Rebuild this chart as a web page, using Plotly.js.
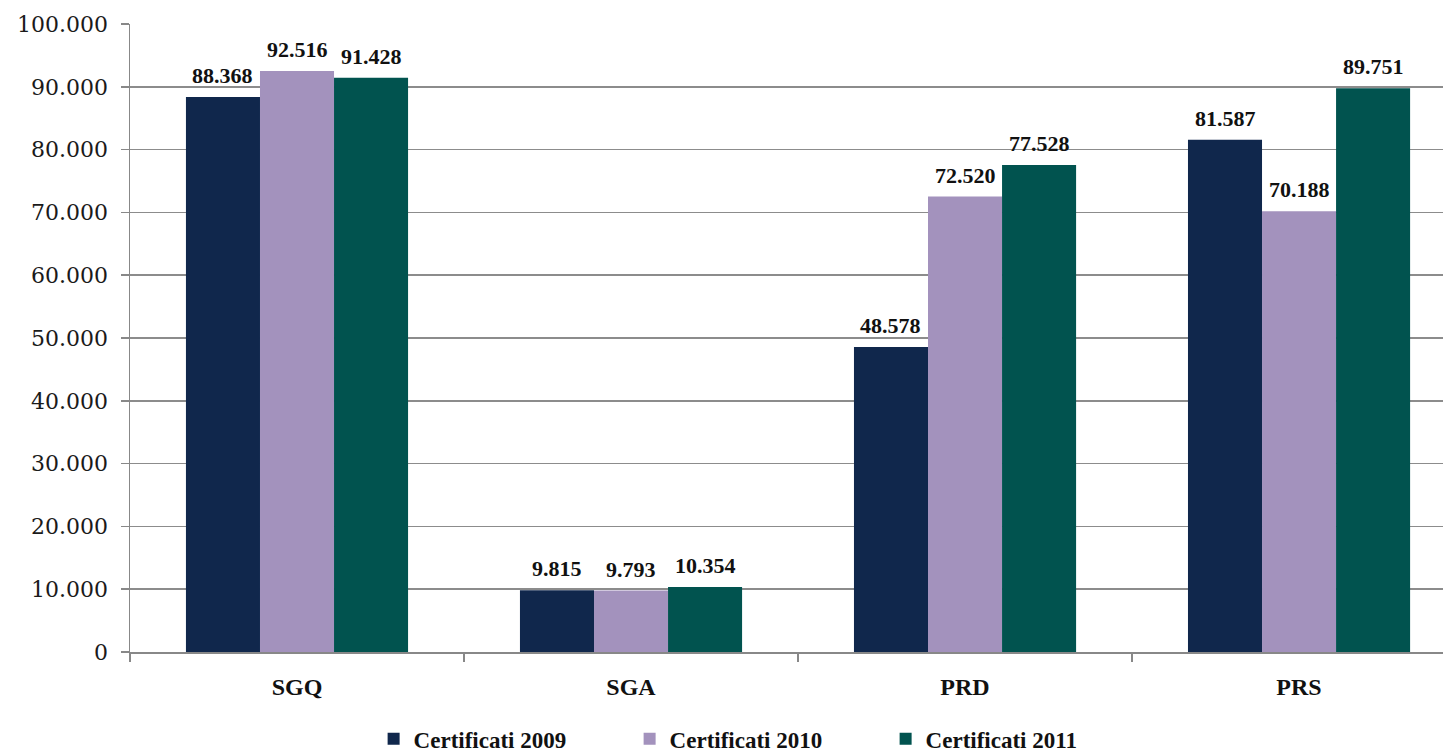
<!DOCTYPE html>
<html>
<head>
<meta charset="utf-8">
<script src="https://cdn.plot.ly/plotly-3.0.1.min.js"></script>
<style>html,body{margin:0;padding:0;background:#fff;}#chart{width:1443px;height:752px;}</style>
</head>
<body>
<div id="chart"></div>
<script>
var categories = ['SGQ', 'SGA', 'PRD', 'PRS'];
var seriesNames = ['Certificati 2009', 'Certificati 2010', 'Certificati 2011'];
var values2009 = [88368, 9815, 48578, 81587];
var values2010 = [92516, 9793, 72520, 70188];
var values2011 = [91428, 10354, 77528, 89751];
var colors = ['#10274C', '#A392BD', '#01534F'];
var yTicks = [0, 10000, 20000, 30000, 40000, 50000, 60000, 70000, 80000, 90000, 100000];

var bargap = 0.335;
var allValues = [values2009, values2010, values2011];
var traces = allValues.map(function (vals, i) {
  return {
    type: 'bar',
    name: seriesNames[i],
    x: categories,
    y: vals,
    marker: {color: colors[i], line: {width: 0}},
    hoverinfo: 'x+y+name'
  };
});

function fmt(v) {
  return String(v).replace(/\B(?=(\d{3})+(?!\d))/g, '.');
}

// value labels above each bar, positioned on the bar centres
var barW = (1 - bargap) / allValues.length;
var annotations = [];
allValues.forEach(function (vals, i) {
  vals.forEach(function (v, j) {
    annotations.push({
      x: j + (i - (allValues.length - 1) / 2) * barW,
      y: v,
      xref: 'x', yref: 'y',
      text: fmt(v),
      showarrow: false,
      xanchor: 'center', yanchor: 'bottom',
      yshift: 7,
      font: {family: 'Liberation Serif', size: 22, color: '#111', weight: 'bold'}
    });
  });
});

var layout = {
  width: 1443,
  height: 752,
  margin: {l: 130, r: 0, t: 24, b: 100, autoexpand: false},
  paper_bgcolor: '#ffffff',
  plot_bgcolor: '#ffffff',
  separators: ',.',
  barmode: 'group',
  bargap: bargap,
  bargroupgap: 0,
  showlegend: true,
  legend: {
    orientation: 'h',
    x: 0.478, xanchor: 'center',
    y: -0.104, yanchor: 'top',
    entrywidth: 211,
    entrywidthmode: 'pixels',
    font: {family: 'Liberation Serif', size: 23, color: '#111', weight: 'bold'},
    traceorder: 'normal'
  },
  annotations: annotations,
  xaxis: {
    type: 'category',
    range: [-0.5, 3.431],
    showline: true,
    linecolor: '#888888',
    linewidth: 2,
    ticks: 'outside',
    tickson: 'boundaries',
    ticklen: 8,
    tickcolor: '#888888',
    tickwidth: 1.5,
    showgrid: false,
    ticklabelstandoff: 12,
    tickfont: {family: 'Liberation Serif', size: 24, color: '#111', weight: 'bold'}
  },
  yaxis: {
    range: [0, 100000],
    tickvals: yTicks,
    tickformat: ',d',
    showline: true,
    linecolor: '#888888',
    linewidth: 1.5,
    ticks: 'outside',
    ticklen: 8,
    tickcolor: '#888888',
    tickwidth: 1.5,
    showgrid: true,
    gridcolor: '#8c8c8c',
    gridwidth: 1.5,
    zeroline: false,
    ticklabelstandoff: 8,
    tickfont: {family: 'DejaVu Serif', size: 22, color: '#1a1a1a'}
  }
};

Plotly.newPlot('chart', traces, layout, {displayModeBar: false, staticPlot: true});
</script>
</body>
</html>
